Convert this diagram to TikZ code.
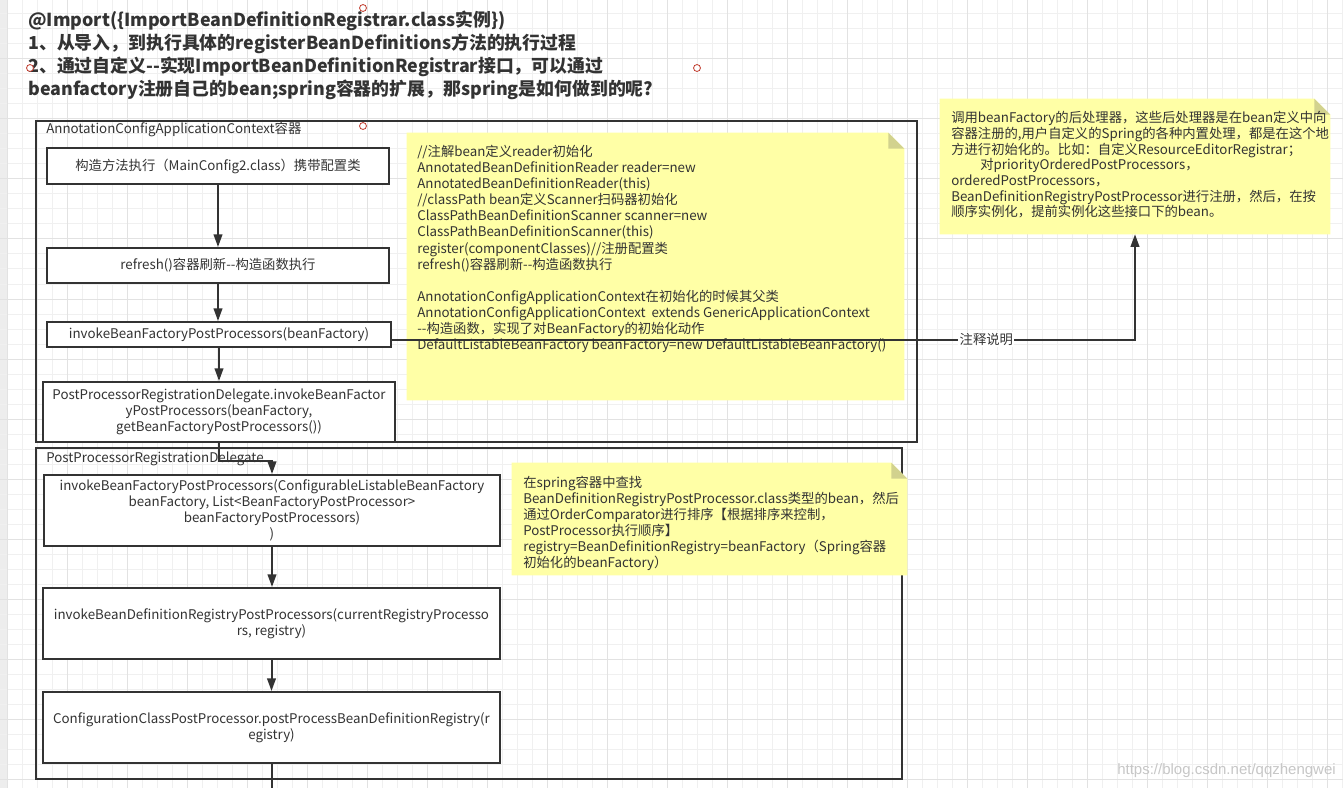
\documentclass[tikz,border=0pt]{standalone}
\usepackage{fontspec}
\setmainfont{Noto Sans CJK SC}
\newfontfamily\wmfont{Liberation Sans}
\usetikzlibrary{arrows.meta,positioning,calc}
\definecolor{dText}{HTML}{333333}
\definecolor{dLine}{HTML}{333333}
\definecolor{nYellow}{HTML}{FFFFA6}
\definecolor{nFold}{HTML}{D2D28E}
\definecolor{gMinor}{HTML}{F0F0F0}
\definecolor{gMajor}{HTML}{E2E2E2}
\definecolor{hRed}{HTML}{C0392B}
\tikzset{
  txt/.style  = {font=\fontsize{10pt}{12pt}\selectfont, text=dText, inner sep=0pt},
  ln/.style   = {txt, anchor=base west},
  ttl/.style  = {font=\fontsize{13.4pt}{17pt}\selectfont\bfseries, text=dText,
                 inner sep=0pt, anchor=base west},
  box/.style  = {txt, draw=dLine, line width=1.5pt, fill=white, align=center},
  frm/.style  = {draw=dLine, line width=1.5pt, inner sep=0pt},
  note/.style = {inner sep=0pt},
  ar/.style   = {-{Triangle[length=9.5pt,width=6.5pt]}, draw=dLine, line width=1.5pt},
  cn/.style   = {draw=dLine, line width=1.5pt},
  hnd/.style  = {draw=hRed, fill=white, line width=0.6pt},
}

\begin{document}
\begin{tikzpicture}[x=0.75pt, y=-0.75pt]
  \useasboundingbox (0,0) rectangle (1343,788);
  % grid
  \fill[white] (0,0) rectangle (1343,788);
  \fill[black!7] (0,0) rectangle (7,788);
  \foreach \gx in {7,22,...,1343} \draw[gMinor, line width=0.75pt] (\gx,0) -- (\gx,788);
  \foreach \gy in {14,29,...,788} \draw[gMinor, line width=0.75pt] (0,\gy) -- (1343,\gy);
  \foreach \gx in {7,67,...,1343} \draw[gMajor, line width=0.75pt] (\gx,0) -- (\gx,788);
  \foreach \gy in {59,119,...,788} \draw[gMajor, line width=0.75pt] (0,\gy) -- (1343,\gy);

  % title
  \foreach \t [count=\i] in {@Import(\{ImportBeanDefinitionRegistrar.class实例\}),
      1、从导入，到执行具体的registerBeanDefinitions方法的执行过程,
      2、通过自定义-{}-实现ImportBeanDefinitionRegistrar接口，可以通过,
      beanfactory注册自己的bean;spring容器的扩展，那spring是如何做到的呢?}
    \node[ttl] (ttl\i) at (28,{26.5+23*(\i-1)}) {\t};

  % containers
  \node[frm, minimum width=660.75pt, minimum height=240.75pt] (ctx) at (476.5,281.5) {};
  \node[ln] (ctxlbl) at (46,134) {AnnotationConfigApplicationContext容器};
  \node[frm, minimum width=649.5pt, minimum height=247.9pt] (dlg) at (469,613.75) {};
  \node[ln] (dlglbl) at (46,462) {PostProcessorRegistrationDelegate};

  % flow boxes
  \node[box, minimum width=256.5pt, minimum height=27pt] (ctor) at (218,166)
       {构造方法执行（MainConfig2.class）携带配置类};
  \node[box, minimum width=256.5pt, minimum height=26.25pt] (refr) at (218,265.5)
       {refresh()容器刷新-{}-构造函数执行};
  \node[box, minimum width=258pt, minimum height=18.75pt] (ibfp) at (219,334.5)
       {invokeBeanFactoryPostProcessors(beanFactory)};
  \node[box, minimum width=264pt, minimum height=45pt] (prd) at (219,412)
       {PostProcessorRegistrationDelegate.invokeBeanFactor\\yPostProcessors(beanFactory,\\getBeanFactoryPostProcessors())};
  \node[box, minimum width=342pt, minimum height=53.25pt] (ibfp2) at (272,510.5)
       {invokeBeanFactoryPostProcessors(ConfigurableListableBeanFactory\\beanFactory, List<BeanFactoryPostProcessor>\\beanFactoryPostProcessors)\\)};
  \node[box, minimum width=342.75pt, minimum height=53.25pt] (ibdr) at (271.5,623.5)
       {invokeBeanDefinitionRegistryPostProcessors(currentRegistryProcesso\\rs, registry)};
  \node[box, minimum width=342.75pt, minimum height=53.25pt] (ccpp) at (271.5,727.5)
       {ConfigurationClassPostProcessor.postProcessBeanDefinitionRegistry(r\\egistry)};
  \coordinate (out) at (272,790);

  % flow arrows
  \draw[ar] (ctor.south) -- (ctor.south |- refr.north);
  \draw[ar] (refr.south) -- (refr.south |- ibfp.north);
  \draw[ar] (ibfp.south) -- (ibfp.south |- prd.north);
  \draw[ar] (prd.south) -- ([yshift=-13.5pt]prd.south) -| (ibfp2.north);
  \draw[ar] (ibfp2.south) -- (ibfp2.south |- ibdr.north);
  \draw[ar] (ibdr.south) -- (ibdr.south |- ccpp.north);
  \draw[cn] (ccpp.south) -- (ccpp.south |- out);

  % notes
  \node[note, minimum width=372.75pt, minimum height=200.25pt] (nt1) at (655.5,266.5) {};
  \node[note, minimum width=292.5pt, minimum height=101.25pt] (nt2) at (1135,166.5) {};
  \node[note, minimum width=296.25pt, minimum height=84pt] (nt3) at (709.5,519) {};
  \foreach \n in {nt1,nt2,nt3}{
    \fill[nYellow] (\n.south west) -- (\n.north west) -- ([xshift=-12pt]\n.north east)
      -- ([yshift=-12pt]\n.north east) -- (\n.south east) -- cycle;
    \fill[nFold] ([xshift=-12pt]\n.north east) -- ([xshift=-12pt,yshift=-12pt]\n.north east)
      -- ([yshift=-12pt]\n.north east) -- cycle;
  }
  \foreach \t [count=\i] in {//注解bean定义reader初始化,
      AnnotatedBeanDefinitionReader reader=new,
      AnnotatedBeanDefinitionReader(this),
      //classPath bean定义Scanner扫码器初始化,
      ClassPathBeanDefinitionScanner scanner=new,
      ClassPathBeanDefinitionScanner(this),
      register(componentClasses)//注册配置类,
      refresh()容器刷新-{}-构造函数执行,
      {},
      AnnotationConfigApplicationContext在初始化的时候其父类,
      AnnotationConfigApplicationContext~ extends GenericApplicationContext,
      -{}-构造函数，实现了对BeanFactory的初始化动作,
      DefaultListableBeanFactory beanFactory=new DefaultListableBeanFactory()}
    \node[ln] (nt1l\i) at (417,{157+16*(\i-1)}) {\t};
  \foreach \t [count=\i] in {调用beanFactory的后处理器，这些后处理器是在bean定义中向,
      {容器注册的,用户自定义的Spring的各种内置处理，都是在这个地},
      方进行初始化的。比如：自定义ResourceEditorRegistrar；,
      \hspace*{21.75pt}对priorityOrderedPostProcessors，,
      orderedPostProcessors，,
      BeanDefinitionRegistryPostProcessor进行注册，然后，在按,
      顺序实例化，提前实例化这些接口下的bean。}
    \node[ln] (nt2l\i) at (951,{122.7+15.7*(\i-1)}) {\t};
  \foreach \t [count=\i] in {在spring容器中查找,
      BeanDefinitionRegistryPostProcessor.class类型的bean，然后,
      通过OrderComparator进行排序【根据排序来控制，,
      PostProcessor执行顺序】,
      registry=BeanDefinitionRegistry=beanFactory（Spring容器,
      初始化的beanFactory）}
    \node[ln] (nt3l\i) at (523,{487.3+16*(\i-1)}) {\t};

  % comment link
  \draw[ar] ([yshift=-3.75pt]ibfp.east) -| node[pos=0.4, txt, fill=white, inner sep=1pt] (lnk) {注释说明} (nt2.south);

  % handles and watermark
  \foreach \hx/\hy in {363/8, 30/68, 697/68, 363/126}
    \draw[hnd] (\hx,\hy) circle[radius=2.6pt];
  \node[font=\wmfont\fontsize{11.25pt}{13pt}\selectfont, text=black!22, anchor=base east,
        inner sep=0pt] (wm) at (1336,774) {https://blog.csdn.net/qqzhengwei};
\end{tikzpicture}
\end{document}
